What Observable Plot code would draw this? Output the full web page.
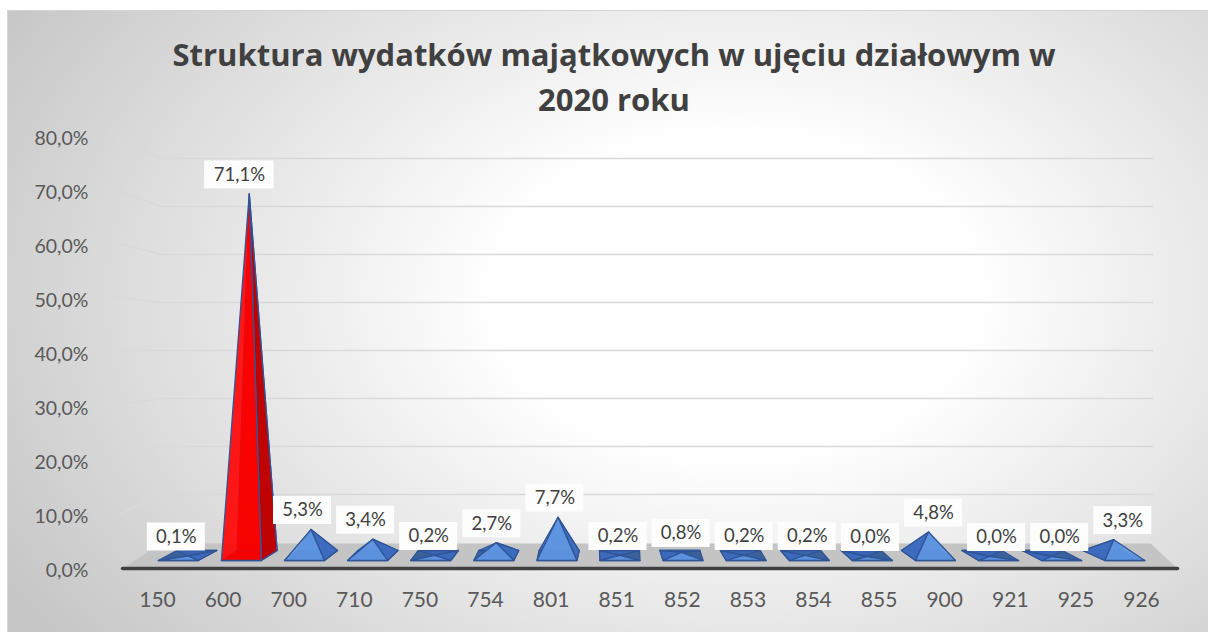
<!DOCTYPE html>
<html><head><meta charset="utf-8">
<script src="https://cdn.jsdelivr.net/npm/d3@7"></script>
<script src="https://cdn.jsdelivr.net/npm/@observablehq/plot@0.6"></script>
<style>
html,body{margin:0;padding:0;width:1208px;height:632px;overflow:hidden;background:#fff;}
#bg{position:absolute;left:7px;top:10px;width:1212px;height:632px;border-top:1px solid #d4d4d4;border-left:1px solid #d4d4d4;
  background:radial-gradient(ellipse 70% 90% at 60% 45%, #ffffff 0%, #ffffff 28%, #c6c6c6 100%);}
#title{position:absolute;left:0;top:32px;width:1228px;text-align:center;font-family:"Open Sans",sans-serif;font-weight:bold;font-size:31px;color:#404040;line-height:45px;}
#chart{position:absolute;left:0;top:120px;}
</style></head><body>
<div id="bg"></div>
<div id="title">Struktura wydatków majątkowych w ujęciu działowym w<br>2020 roku</div>
<div id="chart"></div>
<script>
// ---- data ----
const categories = ["150","600","700","710","750","754","801","851","852","853","854","855","900","921","925","926"];
const values = [0.1, 71.1, 5.3, 3.4, 0.2, 2.7, 7.7, 0.2, 0.8, 0.2, 0.2, 0.0, 4.8, 0.0, 0.0, 3.3];
const highlighted = ["600"];
const yTicks = [0, 10, 20, 30, 40, 50, 60, 70, 80];

const fmt = v => v.toFixed(1).replace(".", ",") + "%";

// ---- 3D look (px per unit, perspective constants) ----
const XS = 65.6, YS = 5.1, X0 = 157, Y0 = 436;
const ux = px => (px - X0) / XS;
const uy = py => (Y0 - py) / YS;
const P = {fc0: 177.8, fcStep: 63.1, halfW: 20, shiftA: 26, shiftB: 0.0427, yFront: 440, yBack: 430};
const frontOf = i => P.fc0 + P.fcStep * i;
const shiftOf = i => P.shiftA - P.shiftB * frontOf(i);

const faceRows = [];
categories.forEach((c, i) => {
  const v = values[i];
  const fc = frontOf(i), sh = shiftOf(i);
  const FL = {x: ux(fc - P.halfW), y: uy(P.yFront)};
  const FR = {x: ux(fc + P.halfW), y: uy(P.yFront)};
  const BR = {x: ux(fc + P.halfW + sh), y: uy(P.yBack)};
  const BL = {x: ux(fc - P.halfW + sh), y: uy(P.yBack)};
  const A = {x: ux(fc + sh / 2), y: v};
  const red = highlighted.includes(c);
  const pal = red
    ? {base: "#9c0000", back: "#b00000", side: "#c00000", front: "#ff0000"}
    : {base: "#2c5697", back: "#3a66b5", side: "#3d6cc0", front: "#6198e4"};
  const faces = [
    ["base", [FL, FR, BR, BL], pal.base],
    ["back", [BL, BR, A], pal.back],
    sh > 0 ? ["side", [FR, BR, A], pal.side] : ["side", [FL, BL, A], pal.side],
    ["front", [FL, FR, A], pal.front]
  ];
  for (const [name, pts, fill] of faces)
    for (const p of pts) faceRows.push({id: c + "-" + name, fill, x: p.x, y: p.y});
});

// floor & walls
const floorRows = [[122, 448], [1177, 448], [1150, 423], [160, 423]].map(([x, y]) => ({x: ux(x), y: uy(y)}));
const gridRows = [];
yTicks.filter(v => v > 0).forEach(v => {
  [[122 - 0.19 * v, 448 - 5.45 * v], [160, 422 - 4.8 * v], [1152, 422 - 4.8 * v]]
    .forEach(([x, y]) => gridRows.push({v, x: ux(x), y: uy(y)}));
});

const labelRows = categories.map((c, i) => {
  const t = fmt(values[i]);
  const half = (t.length * 11.5 + 12) / 2;
  const fc = frontOf(i);
  return {c, v: values[i], t, x: ux(fc - 2), x1: ux(fc - 2 - half), x2: ux(fc - 2 + half)};
});

const plot = Plot.plot({
  width: 1208, height: 512,
  margin: 0, marginBottom: 42,
  x: {type: "linear", domain: [0, 15], range: [X0, X0 + 15 * XS]},
  y: {type: "linear", domain: [0, 80], range: [Y0, Y0 - 80 * YS], axis: null},
  color: {type: "identity"},
  style: {background: "transparent", fontFamily: "Lato, sans-serif", color: "#595959", overflow: "visible"},
  marks: [
    Plot.line(gridRows, {x: "x", y: "y", z: "v", stroke: "#d9d9d9", strokeWidth: 1.5}),
    Plot.line(floorRows, {x: "x", y: "y", fill: "#c4c4c4", stroke: "none", curve: "linear-closed"}),
    Plot.line([{x: ux(122), y: uy(448)}, {x: ux(1177), y: uy(448)}], {x: "x", y: "y", stroke: "#404040", strokeWidth: 3.5}),
    Plot.text(yTicks, {x: () => ux(88), y: v => uy(450 - 5.4 * v), text: fmt, textAnchor: "end", fontSize: 19.5, fill: "#595959"}),
    Plot.axisX(d3.range(categories.length), {tickFormat: i => categories[i], tickSize: 0, tickPadding: 2, fontSize: 21, fill: "#595959"}),
    Plot.line(faceRows, {x: "x", y: "y", z: "id", fill: "fill", stroke: "#2f5597", strokeWidth: 1.3, curve: "linear-closed", fillOpacity: 0.9, strokeLinejoin: "round"}),
    Plot.rect(labelRows, {x1: "x1", x2: "x2", y1: "v", y2: "v", insetTop: -33, insetBottom: 5, fill: "#fdfdfd", ariaLabel: "label-box"}),
    Plot.text(labelRows, {x: "x", y: "v", text: "t", dy: -19, fontSize: 18.5, fill: "#404040"})
  ]
});
const box = plot.querySelector('g[aria-label="label-box"]');
if (box) box.setAttribute("style", "filter: drop-shadow(2px 3px 2.5px rgba(0,0,0,0.35))");
document.getElementById("chart").appendChild(plot);
</script>
</body></html>
